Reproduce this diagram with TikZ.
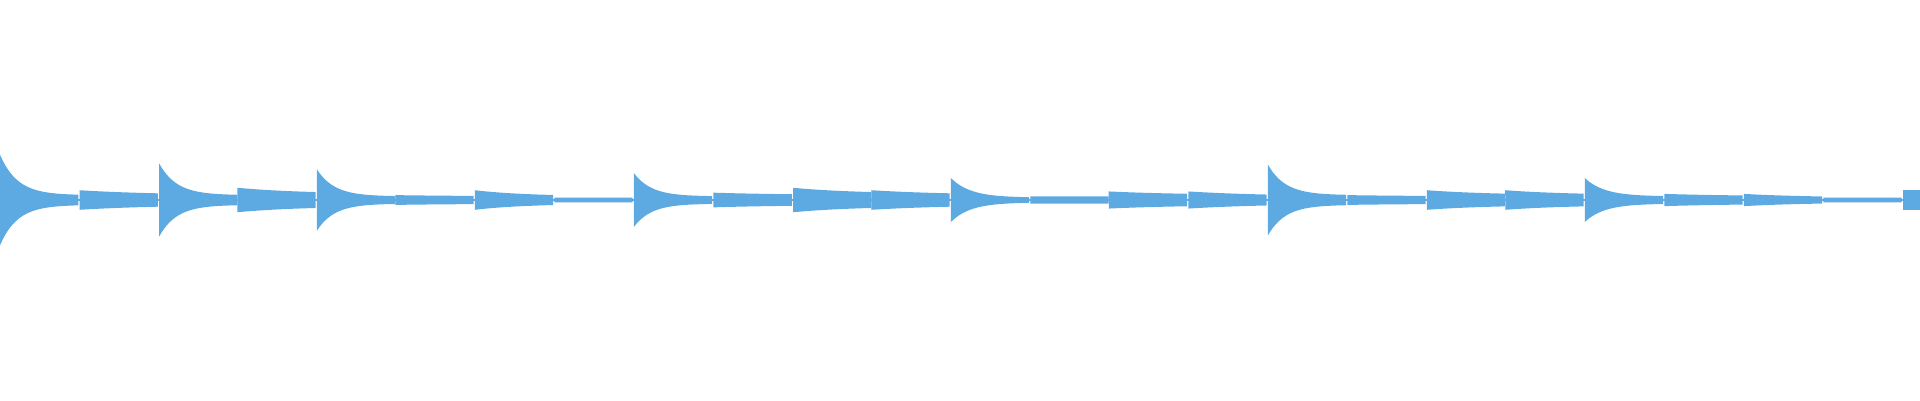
\documentclass[tikz,border=0pt]{standalone}
\definecolor{wave}{RGB}{93,170,226}
\begin{document}
\begin{tikzpicture}
\useasboundingbox (0,0) rectangle (19.2,4);
\draw[wave,line width=0.6pt] (0,2) -- (19.2,2);
\foreach \xs/\A/\E/\k in {0/37/4/4.5, 65/8/4/1, 130/30/4/4.5, 194/10/5/1.2, 259/25/3/4.5, 323/4/3/1, 388/8/3/1.5, 453/2/2/1, 518/22/3/4.5, 583/6/4/1, 648/10/5/1.2, 712/8/4/1, 777/18/2/4, 842/3/3/1, 906/7/4/1, 971/7/3/1, 1036/29/4/4.5, 1101/4/3/1, 1166/8/4/1.2, 1230/8/4/1.2, 1295/18/3/4, 1360/5/3/1, 1425/5/2/1.2, 1490/2/2/1}{
  \fill[wave] plot[domain=0:1,samples=30] ({(\xs+64*\x)*0.012245},{2+(\E+(\A-\E)*exp(-\k*\x))*0.012245})
    -- plot[domain=1:0,samples=30] ({(\xs+64*\x)*0.012245},{2-(\E+(\A-\E)*exp(-\k*\x))*0.012245}) -- cycle;
}
\fill[wave] (1555*0.012245,2-0.1) rectangle (19.2,2+0.1);
\end{tikzpicture}
\end{document}
